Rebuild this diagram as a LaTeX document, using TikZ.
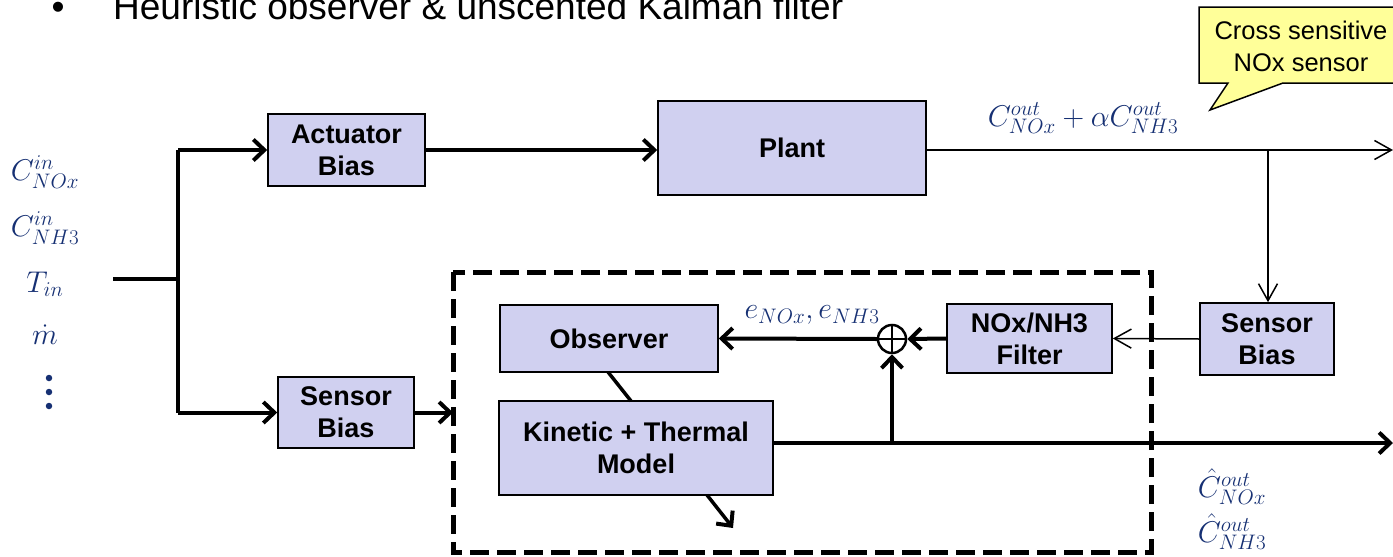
\RequirePackage{fix-cm}
\documentclass[tikz,border=0pt]{standalone}
\usepackage{fontspec}
\setmainfont{Liberation Sans}
\usetikzlibrary{arrows.meta,calc}
\definecolor{boxfill}{RGB}{208,208,240}
\definecolor{mathblue}{RGB}{22,48,115}
\definecolor{noteyellow}{RGB}{255,255,153}
\tikzset{
  block/.style={draw=black, line width=1.6pt, fill=boxfill, align=center,
    font=\fontsize{27}{32}\selectfont\bfseries, inner sep=0pt},
  thickline/.style={line width=4pt},
  thinline/.style={line width=1.5pt},
  bigarrow/.style={thickline, -{Straight Barb[length=11pt,width=21pt,line width=4pt]}},
  smallarrow/.style={thinline, -{Straight Barb[length=17pt,width=19pt,line width=1.5pt]}},
  sig/.style={text=mathblue, font=\fontsize{30}{34}\selectfont, inner sep=0pt},
  vdot/.style={circle, fill=mathblue, inner sep=0pt, minimum size=6.5pt},
}
\begin{document}
\begin{tikzpicture}[x=1pt,y=-1pt]
\useasboundingbox (0,0) rectangle (1393,557);
\clip (0,0) rectangle (1393,557);

% heading line
\node[anchor=base, font=\fontsize{37}{40}\selectfont] (bullet) at (58,19) {•};
\node[anchor=base west, inner sep=0pt, font=\fontsize{37}{40}\selectfont] (title) at (113,19)
  {Heuristic observer \& unscented Kalman filter};

% input signals
\node[sig] (cin1) at (45,172) {$C_{NOx}^{in}$};
\node[sig] (cin2) at (45,228) {$C_{NH3}^{in}$};
\node[sig] (tin)  at (45,284) {$T_{in}$};
\node[sig] (mdot) at (45,335) {$\dot{m}$};
\node[vdot] (dot1) at (49,378) {};
\node[vdot] (dot2) at (49,392) {};
\node[vdot] (dot3) at (49,406) {};

% blocks
\node[block, minimum width=157pt, minimum height=72pt] (act)   at (346.5,150) {Actuator\\Bias};
\node[block, minimum width=268pt, minimum height=94pt] (plant) at (792,148)   {Plant};
\node[block, minimum width=134pt, minimum height=72pt] (sbR)   at (1267,339)  {Sensor\\Bias};
\node[block, minimum width=165pt, minimum height=69pt] (filt)  at (1029.5,338.5) {NOx/NH3\\Filter};
\node[block, minimum width=218pt, minimum height=67pt] (obs)   at (609,338.5) {Observer};
\node[block, minimum width=274pt, minimum height=94pt] (model) at (636,448)   {Kinetic + Thermal\\Model};
\node[block, minimum width=136pt, minimum height=71pt] (sbL)   at (346,412.5) {Sensor\\Bias};
\node[draw=black, line width=2.5pt, circle, minimum size=28pt, inner sep=0pt] (sum) at (892,339) {};
\draw[line width=2.5pt] (sum.north) -- (sum.south) (sum.west) -- (sum.east);

% estimator frame
\draw[line width=5pt, dash pattern=on 19pt off 8pt] (453,272) rectangle (1151,552);

% input bus
\coordinate (in0) at (113,279);
\coordinate (busM) at (178,279);
\coordinate (busT) at (178,150);
\coordinate (busB) at (178,412.5);
\draw[thickline] (in0) -- (busM);
\draw[thickline] (busT) -- (busB);
\draw[bigarrow] (busT) -- (act.west);
\draw[bigarrow] (busB) -- (sbL.west);
\draw[bigarrow] (sbL.east) -- (sbL.east -| 453,0);

% plant path
\draw[bigarrow] (act.east) -- (act.east -| plant.west);
\coordinate (outP) at (1393,150);
\coordinate (br) at (1268,150);
\draw[smallarrow] (plant.east |- outP) -- (outP);
\draw[smallarrow] (br) -- (br |- sbR.north);
\draw[smallarrow] (sbR.west) -- (filt.east);
\node[sig] (ymeas) at (1083,118) {$C_{NOx}^{out}+\alpha C_{NH3}^{out}$};

% estimator internals
\draw[bigarrow] (filt.west) -- (sum.east);
\draw[bigarrow] (sum.west) -- (obs.east);
\node[sig] (err) at (812,315) {$e_{NOx},e_{NH3}$};
\draw[line width=3.5pt] (608,372) -- (631,401);
\draw[bigarrow, line width=3.5pt] (707,495) -- (733,528);
\coordinate (tap) at (892,443);
\coordinate (outM) at (1393,443);
\draw[bigarrow, line width=3.5pt] (tap -| model.east) -- (outM);
\draw[bigarrow, line width=3.5pt] (tap) -- (sum.south);
\node[sig] (chat1) at (1232,487) {$\hat{C}_{NOx}^{out}$};
\node[sig] (chat2) at (1232,532) {$\hat{C}_{NH3}^{out}$};

% callout
\draw[line width=1.5pt, fill=noteyellow]
  (1199,7) -- (1400,7) -- (1400,83) -- (1283,83) -- (1210,110) -- (1228,83) -- (1199,83) -- cycle;
\node[align=center, inner sep=0pt, font=\fontsize{25.5}{32}\selectfont] (note) at (1301,46)
  {Cross sensitive\\NOx sensor};
\end{tikzpicture}
\end{document}
